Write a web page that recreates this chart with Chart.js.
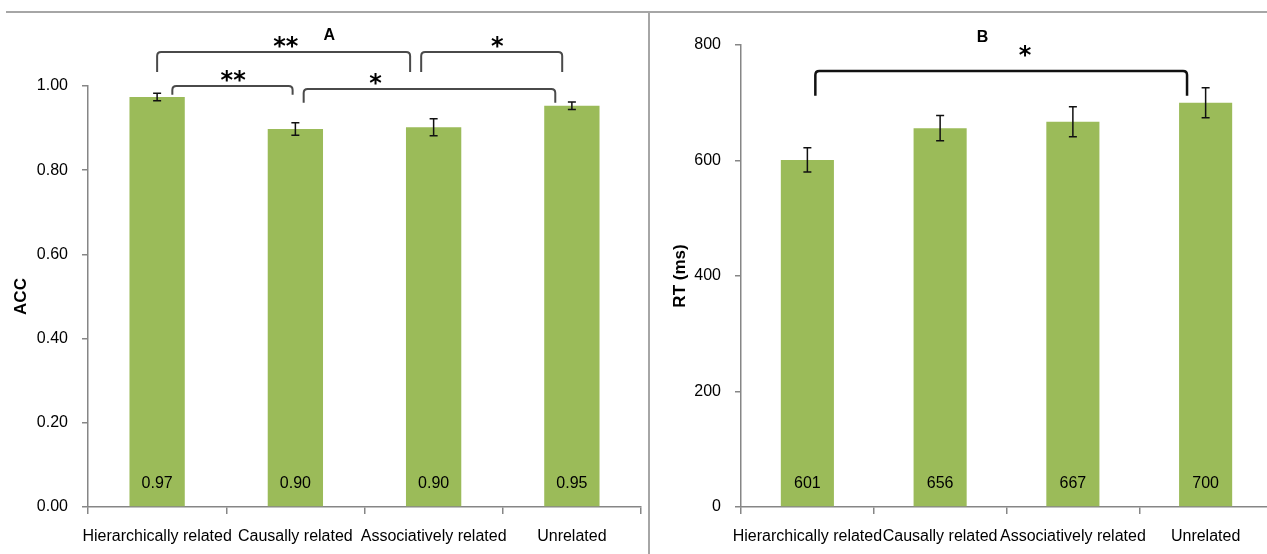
<!DOCTYPE html>
<html>
<head>
<meta charset="utf-8">
<script src="https://cdn.jsdelivr.net/npm/chart.js@4.4.1/dist/chart.umd.min.js"></script>
<style>
  html, body { margin: 0; padding: 0; background: #fff; overflow: hidden; }
  #page { position: relative; width: 1267px; height: 554px; overflow: hidden; }
  .panel { position: absolute; top: 0; height: 554px; }
  #panelA { left: 0; width: 646px; }
  #panelB { left: 652px; width: 626px; }
  .rule { position: absolute; background: #a6a6a6; }
</style>
</head>
<body>
<div id="page">
  <div class="rule" style="left:6px; top:11px; width:1261px; height:2px;"></div>
  <div class="rule" style="left:648px; top:11px; width:2px; height:543px;"></div>
  <div class="panel" id="panelA"><canvas id="accChart"></canvas></div>
  <div class="panel" id="panelB"><canvas id="rtChart"></canvas></div>
</div>
<script>
const categories = ['Hierarchically related', 'Causally related', 'Associatively related', 'Unrelated'];

// Panel A - accuracy
const accValues = [0.974, 0.898, 0.902, 0.953];
const accErrors = [0.009, 0.015, 0.020, 0.009];
const accLabels = ['0.97', '0.90', '0.90', '0.95'];

// Panel B - reaction time
const rtValues = [601, 656, 667, 700];
const rtErrors = [21, 22, 26, 26];
const rtLabels = ['601', '656', '667', '700'];

const FONT = '"Liberation Sans", Arial, sans-serif';
const GREEN = '#9BBB59';
const AXIS = '#868686';

// significance brackets, in category / value units
const accBrackets = [
    { from: 0.0, to: 1.83, top: 1.081, foot: 1.033 },
    { from: 1.91, to: 2.93, top: 1.081, foot: 1.033 },
    { from: 0.11, to: 0.98, top: 1.000, foot: 0.979 },
    { from: 1.06, to: 2.88, top: 0.993, foot: 0.960 }
];
const accMarks = [
    { text: '**', x: 0.93, y: 1.100, star: true },
    { text: '*', x: 2.46, y: 1.100, star: true },
    { text: '**', x: 0.55, y: 1.018, star: true },
    { text: '*', x: 1.58, y: 1.011, star: true },
    { text: 'A', x: 1.245, y: 1.119 }
];
const rtBrackets = [
    { from: 0.06, to: 2.86, top: 755, foot: 712 }
];
const rtMarks = [
    { text: '*', x: 1.64, y: 786, star: true },
    { text: 'B', x: 1.32, y: 813 }
];

const annotate = {
    id: 'annotate',
    afterDatasetsDraw(chart, args, opts) {
        const ctx = chart.ctx;
        const xs = chart.scales.x;
        const ys = chart.scales.y;
        const values = chart.data.datasets[0].data;
        const bars = chart.getDatasetMeta(0).data;

        ctx.save();
        // error bars
        ctx.strokeStyle = '#111';
        ctx.lineWidth = 1.5;
        bars.forEach((bar, i) => {
            const hi = ys.getPixelForValue(values[i] + opts.errors[i]);
            const lo = ys.getPixelForValue(values[i] - opts.errors[i]);
            ctx.beginPath();
            ctx.moveTo(bar.x, hi); ctx.lineTo(bar.x, lo);
            ctx.moveTo(bar.x - 4, hi); ctx.lineTo(bar.x + 4, hi);
            ctx.moveTo(bar.x - 4, lo); ctx.lineTo(bar.x + 4, lo);
            ctx.stroke();
        });

        // value labels at the foot of each bar
        ctx.fillStyle = '#000';
        ctx.font = '16px ' + FONT;
        ctx.textAlign = 'center';
        ctx.textBaseline = 'middle';
        const base = ys.getPixelForValue(0);
        bars.forEach((bar, i) => ctx.fillText(opts.labels[i], bar.x, base - 23));

        // brackets
        ctx.strokeStyle = opts.bracketColor;
        ctx.lineWidth = opts.bracketWidth;
        opts.brackets.forEach(b => {
            const x1 = xs.getPixelForValue(b.from), x2 = xs.getPixelForValue(b.to);
            const yt = ys.getPixelForValue(b.top), yf = ys.getPixelForValue(b.foot);
            const r = 4;
            ctx.beginPath();
            ctx.moveTo(x1, yf);
            ctx.lineTo(x1, yt + r);
            ctx.quadraticCurveTo(x1, yt, x1 + r, yt);
            ctx.lineTo(x2 - r, yt);
            ctx.quadraticCurveTo(x2, yt, x2, yt + r);
            ctx.lineTo(x2, yf);
            ctx.stroke();
        });

        // stars and panel letters
        opts.marks.forEach(m => {
            const px = xs.getPixelForValue(m.x), py = ys.getPixelForValue(m.y);
            if (m.star) {
                ctx.font = 'bold 24px "DejaVu Sans", sans-serif';
                ctx.textBaseline = 'alphabetic';
                ctx.fillText(m.text, px, py + 10);
            } else {
                ctx.font = 'bold 16px ' + FONT;
                ctx.textBaseline = 'middle';
                ctx.fillText(m.text, px, py);
            }
        });
        ctx.restore();
    }
};

function makeChart(id, values, errors, labels, yTitle, yOpts, pad, yWidth, brackets, marks, bracketStyle) {
    const ctx = document.getElementById(id).getContext('2d');
    return new Chart(ctx, {
        type: 'bar',
        data: {
            labels: categories,
            datasets: [{
                data: values,
                backgroundColor: GREEN,
                borderWidth: 0,
                barPercentage: 0.4,
                categoryPercentage: 1.0
            }]
        },
        options: {
            responsive: true,
            maintainAspectRatio: false,
            animation: false,
            layout: { padding: pad },
            scales: {
                x: {
                    grid: { display: true, drawOnChartArea: false, offset: true, tickLength: 7, color: AXIS, lineWidth: 1.5 },
                    border: { color: AXIS, width: 1.5 },
                    ticks: { color: '#000', font: { family: FONT, size: 16 }, maxRotation: 0, minRotation: 0, autoSkip: false, padding: 13 },
                    afterFit: s => { s.height = 47; }
                },
                y: {
                    min: yOpts.min,
                    max: yOpts.max,
                    grid: { display: true, drawOnChartArea: false, tickLength: 6, color: AXIS, lineWidth: 1.5 },
                    border: { color: AXIS, width: 1.5 },
                    ticks: {
                        stepSize: yOpts.step,
                        color: '#000',
                        padding: 14,
                        font: { family: FONT, size: 16 },
                        callback: v => v.toFixed(yOpts.digits)
                    },
                    title: {
                        display: true,
                        text: yTitle,
                        color: '#000',
                        font: { family: FONT, size: 17, weight: 'bold' },
                        padding: { top: yOpts.titlePad, bottom: 0 }
                    },
                    afterFit: s => { s.width = yWidth; }
                }
            },
            plugins: {
                legend: { display: false },
                tooltip: { enabled: false },
                annotate: {
                    errors: errors, labels: labels, brackets: brackets, marks: marks,
                    bracketColor: bracketStyle.color, bracketWidth: bracketStyle.width
                }
            }
        },
        plugins: [annotate]
    });
}

makeChart('accChart', accValues, accErrors, accLabels, 'ACC',
    { min: 0, max: 1, step: 0.2, digits: 2, titlePad: 11 },
    { top: 86, right: 5, bottom: 0, left: 0 }, 88, accBrackets, accMarks,
    { color: '#4a4a4a', width: 2 });

makeChart('rtChart', rtValues, rtErrors, rtLabels, 'RT (ms)',
    { min: 0, max: 800, step: 200, digits: 0, titlePad: 18 },
    { top: 45, right: 6, bottom: 0, left: 0 }, 89, rtBrackets, rtMarks,
    { color: '#111', width: 2.5 });
</script>
</body>
</html>
